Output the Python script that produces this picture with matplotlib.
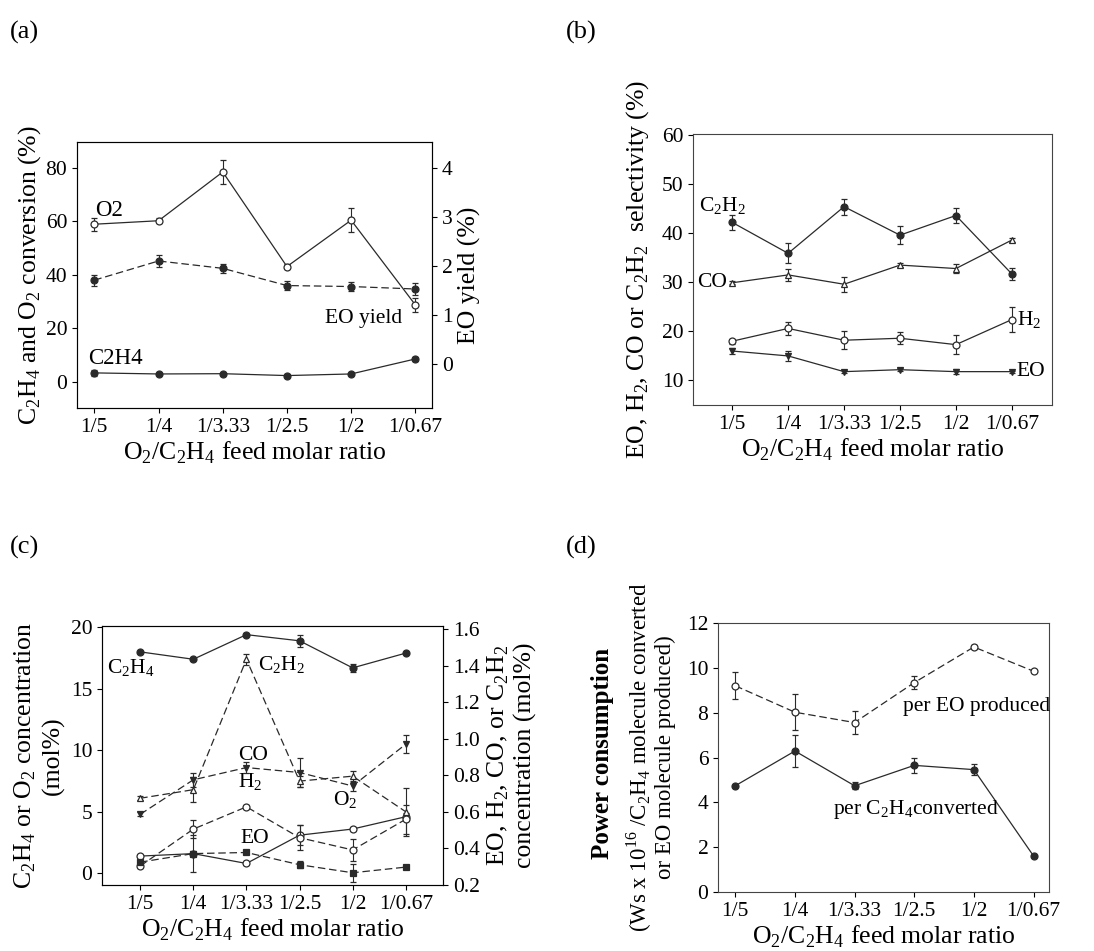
import numpy as np
import matplotlib
matplotlib.use('Agg')
import matplotlib.pyplot as plt

plt.rcParams['font.family'] = ['Liberation Serif', 'DejaVu Serif']
plt.rcParams['mathtext.fontset'] = 'custom'
plt.rcParams['mathtext.rm'] = 'Liberation Serif'
plt.rcParams['mathtext.bf'] = 'Liberation Serif:bold'
plt.rcParams['font.size'] = 15.5
plt.rcParams['xtick.direction'] = 'out'
plt.rcParams['ytick.direction'] = 'out'

ratios = ['1/5', '1/4', '1/3.33', '1/2.5', '1/2', '1/0.67']

# (a) conversion (left axis) and EO yield (right axis)
a_o2 = [58.9, 60.2, 78.4, 43.1, 60.4, 28.8]
a_o2_err = [2.5, 1.0, 4.5, 1.0, 4.5, 2.5]
a_c2h4 = [3.4, 3.0, 3.1, 2.4, 3.0, 8.6]
a_c2h4_err = [1.0, 0.4, 0.4, 0.4, 0.4, 0.6]
a_eo_yield = [1.71, 2.10, 1.95, 1.60, 1.58, 1.53]
a_eo_yield_err = [0.11, 0.12, 0.09, 0.09, 0.09, 0.12]

# (b) selectivity
b_c2h2 = [42.2, 35.9, 45.4, 39.6, 43.6, 31.7]
b_c2h2_err = [1.5, 2.0, 1.6, 1.8, 1.6, 1.3]
b_co = [29.9, 31.5, 29.6, 33.5, 32.8, 38.6]
b_co_err = [0.3, 1.2, 1.5, 0.4, 0.9, 0.4]
b_h2 = [18.0, 20.6, 18.2, 18.6, 17.3, 22.4]
b_h2_err = [0.5, 1.3, 1.8, 1.2, 1.9, 2.5]
b_eo = [16.0, 15.0, 11.8, 12.2, 11.8, 11.8]
b_eo_err = [0.7, 1.0, 0.3, 0.3, 0.5, 0.2]

# (c) concentrations: C2H4, O2 on left axis; the rest on right axis
c_c2h4 = [18.0, 17.4, 19.4, 18.9, 16.7, 17.9]
c_c2h4_err = [0.1, 0.1, 0.1, 0.5, 0.3, 0.1]
c_o2 = [1.4, 1.6, 0.8, 3.1, 3.6, 4.6]
c_o2_err = [0.1, 0.2, 0.1, 0.8, 0.2, 0.3]
c_c2h2 = [0.675, 0.722, 1.436, 0.769, 0.796, 0.601]
c_c2h2_err = [0.01, 0.07, 0.03, 0.03, 0.03, 0.13]
c_co = [0.587, 0.776, 0.843, 0.816, 0.742, 0.971]
c_co_err = [0.01, 0.04, 0.03, 0.08, 0.03, 0.05]
c_h2 = [0.304, 0.506, 0.628, 0.459, 0.392, 0.560]
c_h2_err = [0.01, 0.05, 0.01, 0.07, 0.06, 0.08]
c_eo = [0.325, 0.372, 0.378, 0.311, 0.267, 0.298]
c_eo_err = [0.01, 0.10, 0.01, 0.02, 0.05, 0.01]

# (d) power consumption
d_per_eo = [9.20, 8.02, 7.56, 9.34, 10.93, 9.85]
d_per_eo_err = [0.6, 0.8, 0.5, 0.3, 0.1, 0.05]
d_per_c2h4 = [4.74, 6.29, 4.74, 5.65, 5.46, 1.61]
d_per_c2h4_err = [0.05, 0.7, 0.15, 0.35, 0.25, 0.05]

x = np.arange(len(ratios))
LC = '#2a2a2a'
LAB = 18.5
ANN = 15.5


def series(ax, y, err, marker, filled, dashed):
    ax.errorbar(x, y, yerr=err, color=LC, lw=0.9, elinewidth=0.8, capsize=2.5,
                marker=marker, ms=5, mfc=LC if filled else 'white', mec=LC,
                mew=0.9, ls=(0, (6, 3)) if dashed else '-')


def style(ax, xlim):
    ax.set_xticks(x)
    ax.set_xticklabels(ratios)
    ax.set_xlim(*xlim)
    ax.set_xlabel('O$_2$/C$_2$H$_4$ feed molar ratio', fontsize=LAB, labelpad=2)
    for s in ax.spines.values():
        s.set_linewidth(0.8)
        s.set_color('#444444')


fig = plt.figure(figsize=(10.94, 9.51), dpi=100)

# ---- (a)
ax = fig.add_axes([0.0704, 0.571, 0.3245, 0.2797])
series(ax, a_o2, a_o2_err, 'o', False, False)
series(ax, a_c2h4, a_c2h4_err, 'o', True, False)
ax.set_ylim(-9.7, 89.6)
ax.set_yticks([0, 20, 40, 60, 80])
ax.set_ylabel('C$_2$H$_4$ and O$_2$ conversion (%)', fontsize=LAB, labelpad=2)
style(ax, (-0.27, 5.26))
ax2 = ax.twinx()
series(ax2, a_eo_yield, a_eo_yield_err, 'o', True, True)
ax2.set_ylim(-0.89, 4.52)
ax2.set_yticks([0, 1, 2, 3, 4])
ax2.set_ylabel('EO yield (%)', fontsize=LAB)
ax.text(0.01, 64, 'O2', fontsize=ANN + 1, va='center')
ax.text(-0.09, 8.6, 'C2H4', fontsize=ANN + 1, va='center')
ax.text(3.6, 23.8, 'EO yield', fontsize=ANN, va='center')

# ---- (b)
ax = fig.add_axes([0.6335, 0.5741, 0.3282, 0.285])
series(ax, b_c2h2, b_c2h2_err, 'o', True, False)
series(ax, b_co, b_co_err, '^', False, False)
series(ax, b_h2, b_h2_err, 'o', False, False)
series(ax, b_eo, b_eo_err, 'v', True, False)
ax.set_ylim(5, 60.2)
ax.set_yticks([10, 20, 30, 40, 50, 60])
ax.set_ylabel('EO, H$_2$, CO or C$_2$H$_2$  selectivity (%)', fontsize=LAB, labelpad=8)
style(ax, (-0.7, 5.72))
ax.text(-0.59, 45.4, 'C$_2$H$_2$', fontsize=ANN, va='center')
ax.text(-0.62, 29.9, 'CO', fontsize=ANN, va='center')
ax.text(5.09, 22.2, 'H$_2$', fontsize=ANN, va='center')
ax.text(5.09, 11.9, 'EO', fontsize=ANN, va='center')

# ---- (c)
ax = fig.add_axes([0.0932, 0.0694, 0.3117, 0.2723])
series(ax, c_c2h4, c_c2h4_err, 'o', True, False)
series(ax, c_o2, c_o2_err, 'o', False, False)
ax.set_ylim(-0.95, 20.1)
ax.set_yticks([0, 5, 10, 15, 20])
ax.set_ylabel('C$_2$H$_4$ or O$_2$ concentration\n(mol%)', fontsize=LAB, labelpad=4)
style(ax, (-0.72, 5.7))
ax2 = ax.twinx()
series(ax2, c_c2h2, c_c2h2_err, '^', False, True)
series(ax2, c_co, c_co_err, 'v', True, True)
series(ax2, c_h2, c_h2_err, 'o', False, True)
series(ax2, c_eo, c_eo_err, 's', True, True)
ax2.set_ylim(0.2, 1.618)
ax2.set_yticks([0.2, 0.4, 0.6, 0.8, 1.0, 1.2, 1.4, 1.6])
ax2.set_yticklabels(['0.2', '0.4', '0.6', '0.8', '1.0', '1.2', '1.4', '1.6'])
ax2.set_ylabel('EO, H$_2$, CO, or C$_2$H$_2$\nconcentration (mol%)', fontsize=LAB,
               labelpad=4)
ax.text(-0.63, 16.7, 'C$_2$H$_4$', fontsize=ANN, va='center')
ax.text(2.22, 16.9, 'C$_2$H$_2$', fontsize=ANN, va='center')
ax.text(1.85, 9.6, 'CO', fontsize=ANN, va='center')
ax.text(1.85, 7.4, 'H$_2$', fontsize=ANN, va='center')
ax.text(1.88, 2.85, 'EO', fontsize=ANN, va='center')
ax.text(3.63, 5.96, 'O$_2$', fontsize=ANN, va='center')

# ---- (d)
ax = fig.add_axes([0.6563, 0.062, 0.3026, 0.2829])
series(ax, d_per_eo, d_per_eo_err, 'o', False, True)
series(ax, d_per_c2h4, d_per_c2h4_err, 'o', True, False)
ax.set_ylim(0, 12)
ax.set_yticks([0, 2, 4, 6, 8, 10, 12])
ax.set_ylabel('(Ws x 10$^{16}$ /C$_2$H$_4$ molecule converted\nor EO molecule produced)',
              fontsize=16.5, linespacing=1.05, labelpad=8)
style(ax, (-0.29, 5.26))
ax.text(2.81, 8.26, 'per EO produced', fontsize=ANN, va='center')
ax.text(1.64, 3.7, 'per C$_2$H$_4$converted', fontsize=ANN, va='center')
fig.text(602 / 1094, 1 - 753 / 951, 'Power consumption', rotation=90,
         fontsize=18, fontweight='bold', ha='center', va='center')

# panel letters
for lab, px, py in [('(a)', 10, 32), ('(b)', 566, 32), ('(c)', 10, 547), ('(d)', 566, 547)]:
    fig.text(px / 1094, 1 - py / 951, lab, fontsize=19, ha='left', va='center')

fig.savefig('out.png', dpi=100)
